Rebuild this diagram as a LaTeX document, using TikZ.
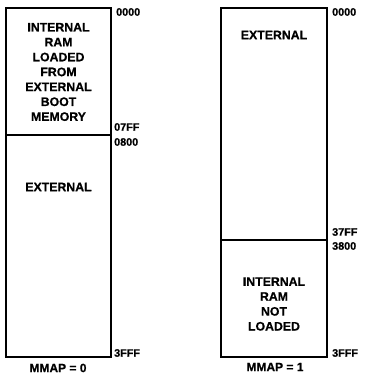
\documentclass[tikz,border=0pt]{standalone}
\usepackage{fontspec}
\setmainfont{Liberation Sans}
\newfontfamily\heavy[FakeBold=0.7]{Liberation Sans Bold}
\begin{document}
\begin{tikzpicture}[x=1pt,y=-1pt,
  region/.style={draw=black, line width=1.8pt, fill=white},
  divider/.style={draw=black, line width=1.4pt},
  boxtext/.style={font=\heavy\fontsize{12.3}{14.9}\selectfont, align=center, inner sep=0pt},
  addr/.style={font=\heavy\fontsize{10.8}{12}\selectfont, anchor=west, inner sep=0pt},
  caption/.style={font=\heavy\fontsize{12}{12}\selectfont, inner sep=0pt}]
\useasboundingbox (0,0) rectangle (365,377);
% left map (MMAP = 0)
\draw[region] (6,8) rectangle (111,357);
\draw[divider] (6,135) -- (111,135);
\node[boxtext] (lint) at (58.5,72) {INTERNAL\\RAM\\LOADED\\FROM\\EXTERNAL\\BOOT\\MEMORY};
\node[boxtext] (lext) at (58.5,187) {EXTERNAL};
\node[addr] (l0000) at (116,12) {0000};
\node[addr] (l07ff) at (114,127) {07FF};
\node[addr] (l0800) at (114,142) {0800};
\node[addr] (l3fff) at (114,353) {3FFF};
\node[caption] (lcap) at (58,368) {MMAP = 0};
% right map (MMAP = 1)
\draw[region] (221,8) rectangle (327,357);
\draw[divider] (221,240) -- (327,240);
\node[boxtext] (rext) at (274,35) {EXTERNAL};
\node[boxtext] (rint) at (274,304) {INTERNAL\\RAM\\NOT\\LOADED};
\node[addr] (r0000) at (332,12) {0000};
\node[addr] (r37ff) at (332,232) {37FF};
\node[addr] (r3800) at (332,246) {3800};
\node[addr] (r3fff) at (332,353) {3FFF};
\node[caption] (rcap) at (275,367) {MMAP = 1};
\end{tikzpicture}
\end{document}
